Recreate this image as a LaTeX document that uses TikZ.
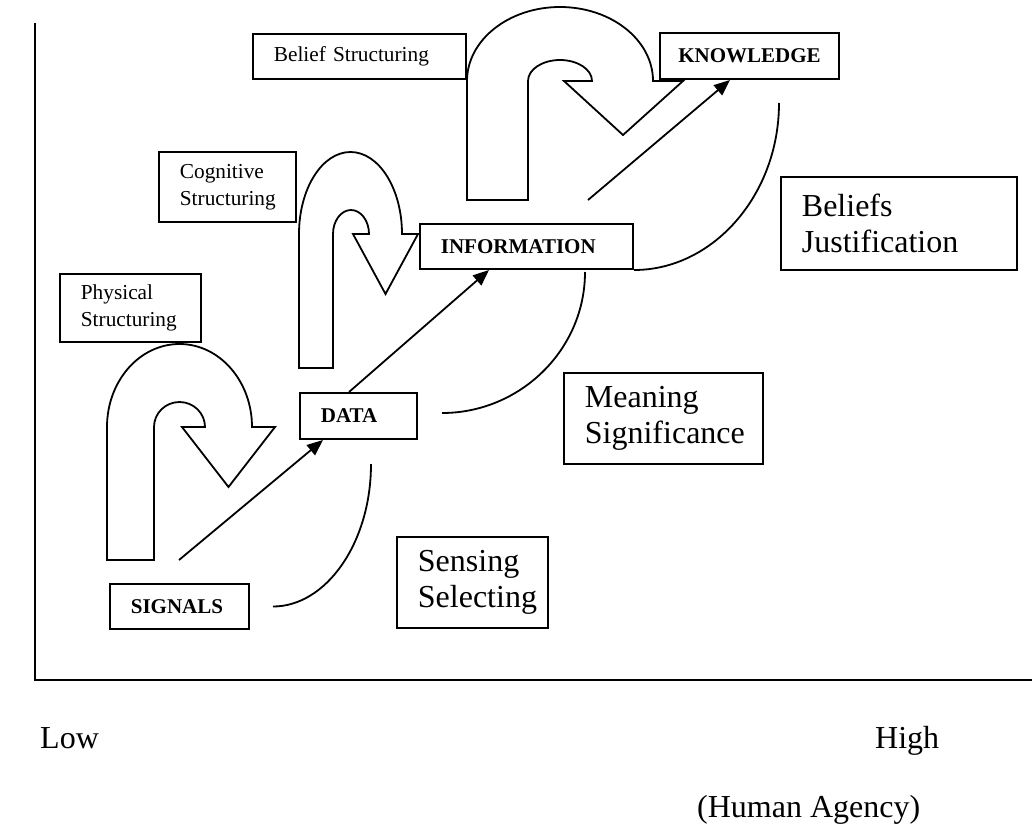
\documentclass[tikz,border=0pt]{standalone}
\usepackage{fontspec}
\setmainfont{Liberation Serif}
\usetikzlibrary{arrows.meta}
\begin{document}
\hyphenpenalty=10000 \exhyphenpenalty=10000
\begin{tikzpicture}[x=1pt,y=-1pt,
  lw/.style={line width=1.8pt},
  box/.style={draw, line width=1.8pt, inner xsep=21pt, inner ysep=0pt, align=left, anchor=center},
  smalltxt/.style={font=\fontsize{21.3}{27}\selectfont},
  bigtxt/.style={font=\fontsize{32}{36}\selectfont},
  boldtxt/.style={font=\fontsize{21}{25}\selectfont\bfseries},
  flow/.style={line width=1.8pt, -{Triangle[length=16pt,width=13pt]}},
  curve/.style={line width=1.8pt},
  uturn/.style={line width=1.8pt, line join=miter},
]
\useasboundingbox (0,0) rectangle (1032,830);

% axes
\draw[lw] (35,23) -- (35,680) -- (1032,680);

% stage boxes
\node[box, boldtxt, text width=97.2pt, minimum height=45.2pt] (signals) at (179.5,606.5) {SIGNALS};
\node[box, boldtxt, text width=75.2pt, minimum height=46.2pt] (data) at (358.5,416) {DATA};
\node[box, boldtxt, text width=171.2pt, minimum height=45.2pt] (info) at (526.5,246.5) {INFORMATION};
\node[box, boldtxt, inner xsep=0pt, minimum width=179.2pt, minimum height=46.2pt] (know) at (749.5,56) {KNOWLEDGE};

% structuring labels
\node[box, smalltxt, text width=99.2pt, minimum height=68.2pt] (phys) at (130.5,308) {Physical\\Structuring};
\node[box, smalltxt, text width=95.2pt, minimum height=70.2pt] (cog) at (227.5,187) {Cognitive\\Structuring};
\node[box, smalltxt, text width=171.2pt, minimum height=45.2pt] (belief) at (359.5,56.5) {Belief Structuring};

% process labels
\node[box, bigtxt, text width=194.2pt, minimum height=93.2pt] (justif) at (899,223.5) {Beliefs\\Justification};
\node[box, bigtxt, text width=157.2pt, minimum height=91.2pt] (meaning) at (663.5,418.5) {Meaning\\Significance};
\node[box, bigtxt, text width=109.2pt, minimum height=91.2pt] (sensing) at (472.5,582.5) {Sensing\\Selecting};

% U-turn block arrows
\draw[uturn] (107,560) -- (107,427) arc[start angle=180, end angle=0, x radius=72.5pt, y radius=83pt]
  -- (275,427) -- (228.5,487) -- (182,427) -- (205,427)
  arc[start angle=0, end angle=180, x radius=25.5pt, y radius=25pt] -- (154,560) -- cycle;
\draw[uturn] (299,368) -- (299,234) arc[start angle=180, end angle=0, x radius=51.5pt, y radius=82pt]
  -- (418,234) -- (385.5,294) -- (353,234) -- (369,234)
  arc[start angle=0, end angle=180, x radius=18pt, y radius=24pt] -- (333,368) -- cycle;
\draw[uturn] (467,200) -- (467,81) arc[start angle=180, end angle=0, x radius=93pt, y radius=74pt]
  -- (683,81) -- (623,135) -- (564,81) -- (592,81)
  arc[start angle=0, end angle=180, x radius=32pt, y radius=21pt] -- (528,200) -- cycle;

% progression arrows
\draw[flow] ([xshift=70pt,yshift=23pt]signals.north west) -- ([xshift=24pt]data.south west);
\draw[flow] ([xshift=50pt]data.north west) -- ([xshift=70pt]info.south west);
\draw[flow] ([xshift=169pt,yshift=23pt]info.north west) -- ([xshift=71pt]know.south west);

% process curves
\draw[curve] ([xshift=23pt]signals.east) .. controls +(53,0) and +(0,79) .. ([xshift=12.5pt,yshift=-24pt]data.south);
\draw[curve] ([xshift=24pt,yshift=3pt]data.east) .. controls +(78,0) and +(0,78) .. ([xshift=58.5pt,yshift=-2pt]info.south);
\draw[curve] (info.south east) .. controls +(79,0) and +(0,92) .. ([xshift=120pt,yshift=-23pt]know.south west);

% axis labels
\node[bigtxt, anchor=base west, inner sep=0pt] (low) at (40,748) {Low};
\node[bigtxt, anchor=base west, inner sep=0pt] (high) at (875,748) {High};
\node[bigtxt, anchor=base west, inner sep=0pt] (agency) at (697,817) {(Human Agency)};
\end{tikzpicture}
\end{document}
